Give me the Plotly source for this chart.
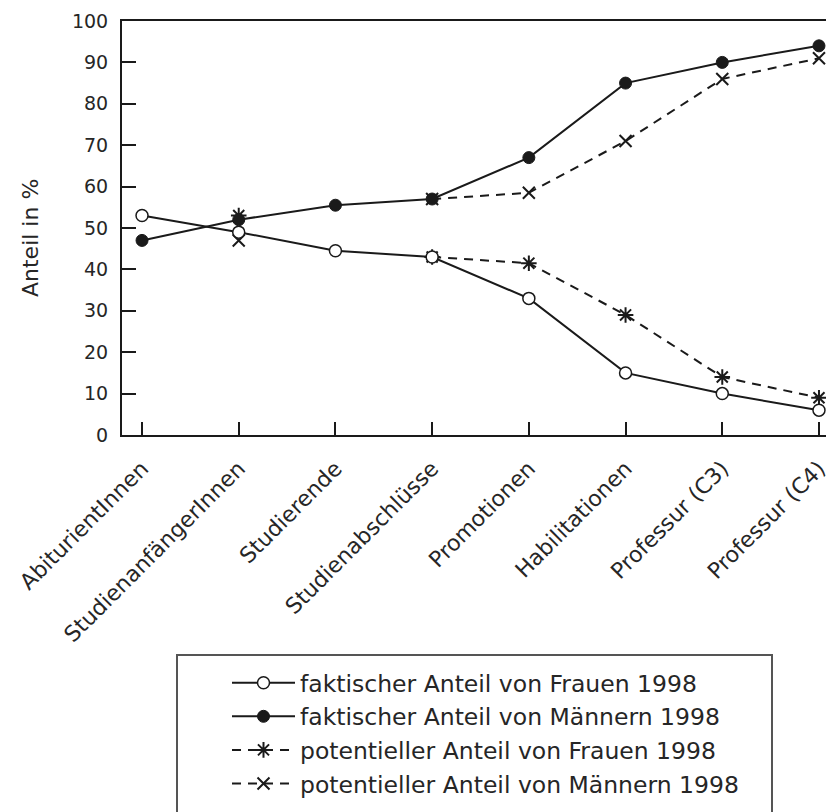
import plotly.graph_objects as go

categories = ["AbiturientInnen", "StudienanfängerInnen", "Studierende", "Studienabschlüsse",
              "Promotionen", "Habilitationen", "Professur (C3)", "Professur (C4)"]
frauen_faktisch = [53, 49, 44.5, 43, 33, 15, 10, 6]
maenner_faktisch = [47, 52, 55.5, 57, 67, 85, 90, 94]
frauen_potentiell = [None, 53, None, 43, 41.5, 29, 14, 9]
maenner_potentiell = [None, 47, None, 57, 58.5, 71, 86, 91]

names = ["faktischer Anteil von Frauen 1998", "faktischer Anteil von Männern 1998",
         "potentieller Anteil von Frauen 1998", "potentieller Anteil von Männern 1998"]

FONT = "DejaVu Sans, Verdana, sans-serif"
INK = "#1a1a1a"
TXT = "#262626"
OFF = 8                       # page body margin of the browser
W, H = 834 - OFF, 812 - OFF   # figure size so it fits the window
# plot area in screen pixels: x 122..833, y 21..435
L, R, T, B = 122 - OFF, (834 - 833), 21 - OFF, (812 - 435)
PW, PH = W - L - R, H - T - B


def sx(px):   # screen x pixel -> paper x
    return (px - OFF - L) / PW


def sy(py):   # screen y pixel -> paper y
    return (H - B - (py - OFF)) / PH


fig = go.Figure()

fig.add_trace(go.Scatter(
    x=categories, y=frauen_potentiell, name=names[2], mode="lines+markers",
    connectgaps=False, legendrank=3,
    line=dict(color=INK, width=2, dash="9px,7px"),
    marker=dict(symbol="asterisk-open", size=13, line=dict(color=INK, width=2))))
fig.add_trace(go.Scatter(
    x=categories, y=maenner_potentiell, name=names[3], mode="lines+markers",
    connectgaps=False, legendrank=4,
    line=dict(color=INK, width=2, dash="9px,7px"),
    marker=dict(symbol="x-thin-open", size=12, line=dict(color=INK, width=2))))
fig.add_trace(go.Scatter(
    x=categories, y=frauen_faktisch, name=names[0], mode="lines+markers",
    legendrank=1,
    line=dict(color=INK, width=2),
    marker=dict(symbol="circle", size=12, color="white", line=dict(color=INK, width=1.5))))
fig.add_trace(go.Scatter(
    x=categories, y=maenner_faktisch, name=names[1], mode="lines+markers",
    legendrank=2,
    line=dict(color=INK, width=2),
    marker=dict(symbol="circle", size=12, color=INK, line=dict(color=INK, width=1))))

fig.update_layout(
    width=W, height=H,
    margin=dict(l=L, r=R, t=T, b=B, pad=0, autoexpand=False),
    paper_bgcolor="white", plot_bgcolor="white",
    font=dict(family=FONT, size=18, color=TXT),
    showlegend=True,
    legend=dict(
        x=sx(227), y=sy(661), xanchor="left", yanchor="top",
        bgcolor="rgba(0,0,0,0)", borderwidth=0,
        font=dict(family=FONT, size=23.5, color=TXT),
        itemwidth=63, traceorder="normal",
    ),
    xaxis=dict(
        type="category", range=[-0.207, 7.145],
        showgrid=False, zeroline=False,
        showline=True, linecolor=INK, linewidth=2, mirror=True,
        ticks="inside", ticklen=13, tickwidth=2, tickcolor=INK,
        ticklabelstandoff=10,
        tickangle=-45, tickfont=dict(family=FONT, size=22, color=TXT),
    ),
    yaxis=dict(
        range=[0, 100], dtick=10, tick0=0,
        showgrid=False, zeroline=False,
        showline=True, linecolor=INK, linewidth=2, mirror=True,
        ticks="inside", ticklen=14, tickwidth=2, tickcolor=INK,
        ticklabelstandoff=8,
        tickfont=dict(family=FONT, size=19, color=TXT),
    ),
    shapes=[dict(type="rect", xref="paper", yref="paper",
                 x0=sx(177), x1=sx(772), y0=sy(818), y1=sy(655),
                 line=dict(color="#555", width=2), fillcolor="rgba(0,0,0,0)")],
    annotations=[dict(text="Anteil in %", xref="paper", yref="paper",
                      x=sx(30), y=sy(238),
                      textangle=-90, showarrow=False, xanchor="center", yanchor="middle",
                      font=dict(family=FONT, size=22, color=TXT))],
)

fig.write_html("out.html")
